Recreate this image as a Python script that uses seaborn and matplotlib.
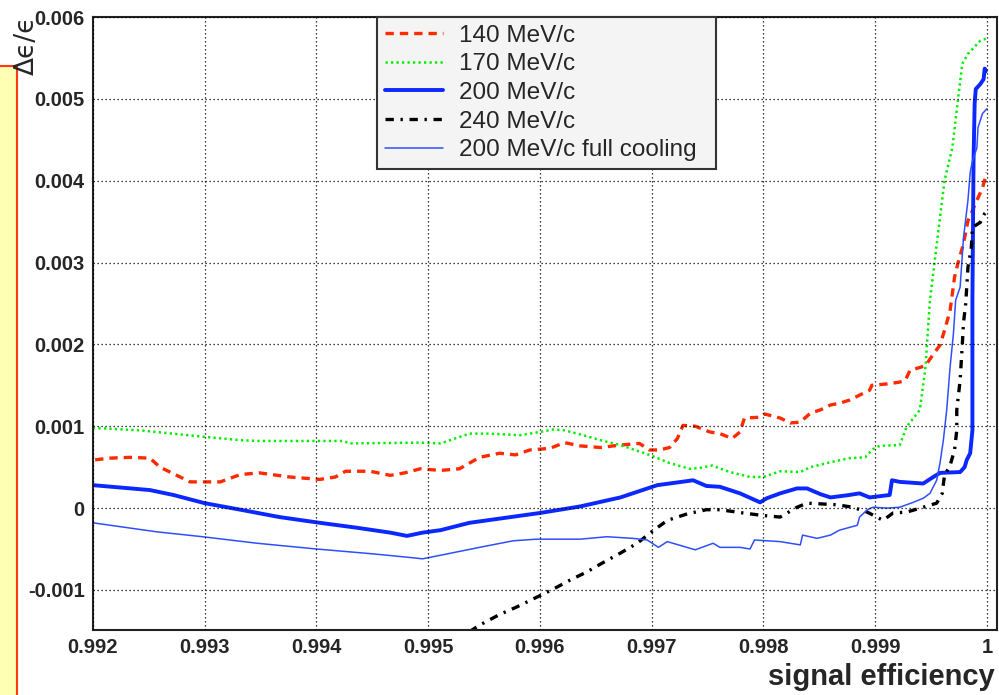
import numpy as np
import pandas as pd
import matplotlib
matplotlib.use("Agg")
import matplotlib.pyplot as plt
import matplotlib.ticker as mticker
from matplotlib.patches import Rectangle
import seaborn as sns

# --- data (y in units of 1e-3)

eff_140 = [0.99202, 0.99215, 0.99233, 0.99251, 0.99260, 0.99278, 0.99287, 0.99314, 0.99332, 0.99349,
           0.99376, 0.99403, 0.99417, 0.99426, 0.99448, 0.99466, 0.99479, 0.99493, 0.99511, 0.99528,
           0.99537, 0.99546, 0.99564, 0.99578, 0.99591, 0.99609, 0.99622, 0.99636, 0.99654, 0.99672,
           0.99689, 0.99698, 0.99707, 0.99716, 0.99723, 0.99728, 0.99739, 0.99752, 0.99761, 0.99772,
           0.99779, 0.99783, 0.99797, 0.99801, 0.99815, 0.99824, 0.99833, 0.99842, 0.99851, 0.99860,
           0.99868, 0.99877, 0.99886, 0.99895, 0.99897, 0.99913, 0.99922, 0.99927, 0.99931, 0.99945,
           0.99953, 0.99958, 0.99962, 0.99967, 0.99971, 0.99974, 0.99979, 0.99983, 0.99991, 0.99996,
           0.99999, 1.00000]
de_140 = [0.59, 0.61, 0.62, 0.61, 0.50, 0.38, 0.32, 0.32, 0.41, 0.43,
          0.38, 0.35, 0.38, 0.45, 0.45, 0.40, 0.43, 0.48, 0.46, 0.48,
          0.55, 0.62, 0.67, 0.65, 0.71, 0.73, 0.80, 0.76, 0.74, 0.77,
          0.79, 0.71, 0.71, 0.74, 0.85, 1.01, 1.00, 0.93, 0.91, 0.85,
          0.93, 1.10, 1.11, 1.15, 1.10, 1.04, 1.05, 1.16, 1.20, 1.26,
          1.28, 1.32, 1.38, 1.44, 1.50, 1.52, 1.54, 1.56, 1.68, 1.74,
          1.90, 1.99, 2.17, 2.41, 2.82, 2.99, 3.23, 3.51, 3.76, 3.91,
          4.06, 4.10]

eff_170 = [0.99200, 0.99242, 0.99300, 0.99332, 0.99347, 0.99424, 0.99430, 0.99493, 0.99511, 0.99537,
           0.99555, 0.99582, 0.99600, 0.99612, 0.99622, 0.99636, 0.99654, 0.99672, 0.99698, 0.99716,
           0.99734, 0.99743, 0.99754, 0.99770, 0.99788, 0.99800, 0.99815, 0.99833, 0.99842, 0.99860,
           0.99877, 0.99891, 0.99898, 0.99904, 0.99922, 0.99928, 0.99940, 0.99945, 0.99947, 0.99949,
           0.99953, 0.99962, 0.99969, 0.99974, 0.99978, 0.99983, 0.99994, 1.00000]
de_170 = [0.98, 0.95, 0.87, 0.83, 0.82, 0.82, 0.79, 0.80, 0.79, 0.91,
          0.91, 0.89, 0.93, 0.96, 0.95, 0.90, 0.83, 0.77, 0.65, 0.55,
          0.48, 0.49, 0.52, 0.44, 0.38, 0.38, 0.45, 0.44, 0.50, 0.56,
          0.61, 0.62, 0.72, 0.76, 0.77, 0.99, 1.20, 1.72, 2.13, 2.54,
          2.99, 4.00, 4.40, 4.98, 5.43, 5.55, 5.71, 5.74]

eff_200 = [0.99200, 0.99251, 0.99272, 0.99300, 0.99332, 0.99367, 0.99403, 0.99436, 0.99466, 0.99481,
           0.99495, 0.99511, 0.99537, 0.99600, 0.99636, 0.99672, 0.99705, 0.99732, 0.99737, 0.99749,
           0.99761, 0.99779, 0.99797, 0.99803, 0.99815, 0.99830, 0.99839, 0.99851, 0.99860, 0.99877,
           0.99886, 0.99895, 0.99913, 0.99915, 0.99922, 0.99943, 0.99952, 0.99958, 0.99976, 0.99980,
           0.99982, 0.99985, 0.99987, 0.99987, 0.99988, 0.99989, 0.99990, 0.99994, 0.99997, 0.99998,
           0.99999]
de_200 = [0.28, 0.22, 0.16, 0.06, -0.02, -0.11, -0.18, -0.24, -0.30, -0.34,
          -0.30, -0.27, -0.18, -0.06, 0.02, 0.13, 0.28, 0.33, 0.34, 0.27,
          0.26, 0.18, 0.07, 0.12, 0.18, 0.24, 0.24, 0.17, 0.13, 0.16,
          0.18, 0.13, 0.16, 0.34, 0.32, 0.30, 0.38, 0.43, 0.44, 0.50,
          0.59, 0.67, 0.95, 2.54, 4.24, 4.94, 5.12, 5.18, 5.24, 5.37,
          5.34]

eff_240 = [0.99537, 0.99546, 0.99564, 0.99579, 0.99597, 0.99612, 0.99627, 0.99642, 0.99656, 0.99672,
           0.99687, 0.99700, 0.99714, 0.99732, 0.99749, 0.99761, 0.99782, 0.99799, 0.99815, 0.99830,
           0.99839, 0.99853, 0.99866, 0.99880, 0.99893, 0.99907, 0.99916, 0.99928, 0.99943, 0.99955,
           0.99960, 0.99962, 0.99967, 0.99971, 0.99973, 0.99973, 0.99976, 0.99978, 0.99979, 0.99981,
           0.99983, 0.99986, 0.99987, 0.99994, 0.99998, 1.00000]
de_240 = [-1.51, -1.43, -1.30, -1.21, -1.09, -0.99, -0.88, -0.78, -0.67, -0.55,
          -0.43, -0.29, -0.15, -0.07, -0.02, -0.02, -0.06, -0.09, -0.11, 0.01,
          0.06, 0.05, 0.04, 0.01, -0.05, -0.15, -0.06, -0.05, 0.01, 0.06,
          0.18, 0.40, 0.52, 0.71, 0.95, 1.20, 1.56, 2.01, 2.26, 2.50,
          2.94, 3.18, 3.43, 3.49, 3.60, 3.63]

eff_200fc = [0.99200, 0.99257, 0.99298, 0.99347, 0.99400, 0.99451, 0.99481, 0.99495, 0.99517, 0.99546,
             0.99576, 0.99597, 0.99636, 0.99660, 0.99683, 0.99696, 0.99706, 0.99714, 0.99739, 0.99755,
             0.99761, 0.99779, 0.99788, 0.99792, 0.99815, 0.99833, 0.99835, 0.99848, 0.99860, 0.99868,
             0.99884, 0.99886, 0.99893, 0.99898, 0.99911, 0.99922, 0.99934, 0.99943, 0.99949, 0.99955,
             0.99958, 0.99961, 0.99964, 0.99967, 0.99970, 0.99972, 0.99976, 0.99979, 0.99983, 0.99985,
             0.99987, 0.99991, 0.99992, 0.99996, 1.00000]
de_200fc = [-0.18, -0.29, -0.35, -0.43, -0.50, -0.56, -0.60, -0.62, -0.56, -0.48,
            -0.40, -0.38, -0.38, -0.35, -0.37, -0.39, -0.48, -0.41, -0.51, -0.43,
            -0.48, -0.48, -0.50, -0.39, -0.41, -0.45, -0.33, -0.37, -0.33, -0.27,
            -0.21, -0.11, -0.02, 0.01, 0.00, 0.01, 0.07, 0.12, 0.18, 0.34,
            0.55, 0.83, 1.20, 1.72, 2.13, 2.54, 2.70, 3.30, 3.76, 4.10,
            4.24, 4.40, 4.65, 4.82, 4.88]

labels = ["140 MeV/c", "170 MeV/c", "200 MeV/c", "240 MeV/c", "200 MeV/c full cooling"]
scale = 1e-3

sns.set_style("white")
plt.rcParams['font.family'] = ['Liberation Sans', 'DejaVu Sans']
plt.rcParams['axes.unicode_minus'] = False

fig = plt.figure(figsize=(9.99, 6.95), dpi=100)
ax = fig.add_axes([0.093, 0.0935, 0.905, 0.882])

# pale box peeking in at the left edge
fig.patches.append(Rectangle((-0.01, -0.01), 0.027, 0.915, transform=fig.transFigure,
                             facecolor='#ffffb4', edgecolor='#ff3a10', lw=1.5, zorder=0))

series = [
    (eff_140, de_140, dict(color='#ff2a00', lw=2.4, linestyle=(0, (2.5, 1.8)))),
    (eff_170, de_170, dict(color='#00ee00', lw=1.8, linestyle=(0, (0.9, 1.3)))),
    (eff_200, de_200, dict(color='#0a28ff', lw=2.8, linestyle='-')),
    (eff_240, de_240, dict(color='black', lw=2.4, linestyle=(0, (2.5, 2.0, 0.7, 2.0)))),
    (eff_200fc, de_200fc, dict(color='#2f4fff', lw=1.1, linestyle='-')),
]
for (xs, ys, kw), lab in zip(series, labels):
    df = pd.DataFrame({'eff': xs, 'de': np.array(ys) * scale})
    sns.lineplot(data=df, x='eff', y='de', estimator=None, sort=False, ax=ax, label=lab, **kw)

ax.set_xlim(0.992, 1.00009)
ax.set_ylim(-0.00149, 0.006)

ax.xaxis.set_major_locator(mticker.MultipleLocator(0.001))
ax.xaxis.set_minor_locator(mticker.MultipleLocator(0.0002))
ax.yaxis.set_major_locator(mticker.MultipleLocator(0.001))
ax.yaxis.set_minor_locator(mticker.MultipleLocator(0.0002))
fmt = mticker.FuncFormatter(lambda v, p: '%g' % round(v, 6))
ax.xaxis.set_major_formatter(fmt)
ax.yaxis.set_major_formatter(fmt)

ax.tick_params(axis='both', which='both', direction='in', color='#222222', width=1.1,
               top=False, right=False, labelsize=14.5)
ax.tick_params(axis='y', which='major', length=18, pad=6)
ax.tick_params(axis='y', which='minor', length=8.6)
ax.tick_params(axis='x', which='major', length=13, pad=6)
ax.tick_params(axis='x', which='minor', length=6)
for lab in ax.get_xticklabels() + ax.get_yticklabels():
    lab.set_fontweight('bold')

ax.grid(True, which='major', color='black', lw=0.9, linestyle=(0, (1, 2.2)))
ax.set_axisbelow(False)
for sp in ax.spines.values():
    sp.set_color('#222222')
    sp.set_linewidth(1.5)

ax.set_xlabel('')
ax.set_ylabel('')
fig.text(0.996, 0.0144, 'signal efficiency', ha='right', va='baseline',
         fontsize=21, fontweight='bold')
fig.text(0.027, 0.978, 'Δϵ/ϵ', rotation=90, ha='center', va='top', fontsize=19,
         family=['DejaVu Sans'])

leg = ax.legend(loc='upper left', bbox_to_anchor=(0.314, 0.749, 0.375, 0.251),
                mode='expand', borderaxespad=0, fontsize=17.5, frameon=True,
                fancybox=False, framealpha=1, handlelength=2.4, handletextpad=0.65,
                labelspacing=0.27, borderpad=0.32)
leg.get_frame().set_facecolor('#f4f4f4')
leg.get_frame().set_edgecolor('#333333')
leg.get_frame().set_linewidth(1.5)

fig.savefig('out.png', dpi=100)
